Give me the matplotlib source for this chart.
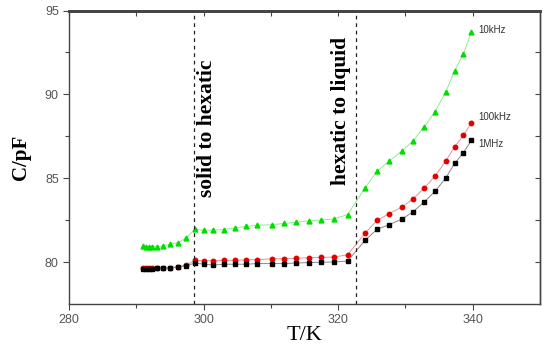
import matplotlib.pyplot as plt
from matplotlib.ticker import MultipleLocator, FixedLocator

# Data (capacitance vs temperature)
T = [291.0, 291.4, 291.8, 292.3, 293.1, 294.0, 295.0, 296.2, 297.4,
     298.7, 300.1, 301.4, 303.0, 304.7, 306.3, 307.9, 310.2, 311.9, 313.7,
     315.6, 317.5, 319.3, 321.4,
     324.0, 325.8, 327.6, 329.5, 331.1, 332.8, 334.4, 336.0, 337.3, 338.6, 339.8]

c_10k = [80.95, 80.92, 80.90, 80.90, 80.92, 80.96, 81.06, 81.16, 81.44,
         81.96, 81.90, 81.90, 81.94, 82.03, 82.13, 82.19, 82.23, 82.30, 82.37,
         82.45, 82.51, 82.57, 82.83,
         84.44, 85.42, 86.03, 86.63, 87.21, 88.06, 88.96, 90.15, 91.41, 92.40, 93.70]

c_100k = [79.66, 79.67, 79.66, 79.67, 79.65, 79.65, 79.67, 79.71, 79.82,
          80.10, 80.08, 80.08, 80.10, 80.10, 80.14, 80.14, 80.20, 80.20, 80.22,
          80.26, 80.28, 80.30, 80.43,
          81.73, 82.49, 82.89, 83.29, 83.75, 84.42, 85.12, 86.03, 86.87, 87.55, 88.30]

c_1M = [79.60, 79.61, 79.60, 79.61, 79.62, 79.63, 79.66, 79.70, 79.78,
        79.94, 79.87, 79.82, 79.87, 79.87, 79.87, 79.91, 79.91, 79.91, 79.94,
        79.97, 79.99, 80.00, 80.06,
        81.30, 81.96, 82.23, 82.57, 82.99, 83.59, 84.22, 85.02, 85.88, 86.51, 87.27]

transitions = [298.6, 322.6]
transition_labels = ["solid to hexatic", "hexatic to liquid"]
series_labels = ["10kHz", "100kHz", "1MHz"]
label_y = [93.85, 88.65, 87.05]

fig = plt.figure(figsize=(5.54, 3.55), dpi=100)
ax = fig.add_axes([0.1249, 0.1437, 0.8498, 0.8267])

ax.plot(T, c_10k, color='#8cf08c', lw=0.7, marker='^', ms=3.5,
        mfc='#00dd00', mec='#00dd00')
ax.plot(T, c_100k, color='#f09090', lw=0.7, marker='o', ms=3.2,
        mfc='#e00000', mec='#e00000')
ax.plot(T, c_1M, color='#888888', lw=0.7, marker='s', ms=3.0,
        mfc='#000000', mec='#000000')

for x in transitions:
    ax.axvline(x, color='#222222', ls=(0, (3, 3)), lw=0.9)

ax.text(300.5, 88.0, transition_labels[0], rotation=90,
        ha='center', va='center', family='Liberation Serif', weight='bold', fontsize=15.5)
ax.text(320.4, 89.0, transition_labels[1], rotation=90,
        ha='center', va='center', family='Liberation Serif', weight='bold', fontsize=15.5)

for lab, y in zip(series_labels, label_y):
    ax.text(340.9, y, lab, fontsize=7, family='Liberation Sans', color='#333333',
            va='center', ha='left')

ax.set_xlim(280, 350)
ax.set_ylim(77.5, 95)
ax.xaxis.set_major_locator(FixedLocator([280, 300, 320, 340]))
ax.xaxis.set_minor_locator(FixedLocator([290, 310, 330]))
ax.yaxis.set_major_locator(MultipleLocator(5))
ax.yaxis.set_minor_locator(FixedLocator([82.5, 87.5, 92.5]))

ax.tick_params(which='both', direction='out',
               labelsize=9, labelcolor='#555555', color='#444444')
ax.tick_params(which='major', length=4, width=0.8)
ax.tick_params(which='minor', length=3, width=0.8)
for lab in ax.get_xticklabels() + ax.get_yticklabels():
    lab.set_family('Liberation Sans')

# inward ticks on top and right
secx = ax.secondary_xaxis('top')
secx.xaxis.set_major_locator(FixedLocator([280, 290, 300, 310, 320, 330, 340]))
secx.tick_params(direction='in', length=3.5, width=0.8, color='#444444', labeltop=False)
secy = ax.secondary_yaxis('right')
secy.yaxis.set_major_locator(FixedLocator([80, 82.5, 85, 87.5, 90, 92.5]))
secy.tick_params(direction='in', length=3.5, width=0.8, color='#444444', labelright=False)

for a in (ax, secx, secy):
    for spine in a.spines.values():
        spine.set_color('#444444')
        spine.set_linewidth(1.0)
ax.spines['top'].set_linewidth(2.0)
secx.spines['top'].set_linewidth(2.0)

ax.set_xlabel("T/K", family='Liberation Serif', fontsize=16, labelpad=0)
ax.set_ylabel("C/pF", family='Liberation Serif', fontsize=15, weight='bold', labelpad=10)

fig.savefig('out.png', dpi=100)
